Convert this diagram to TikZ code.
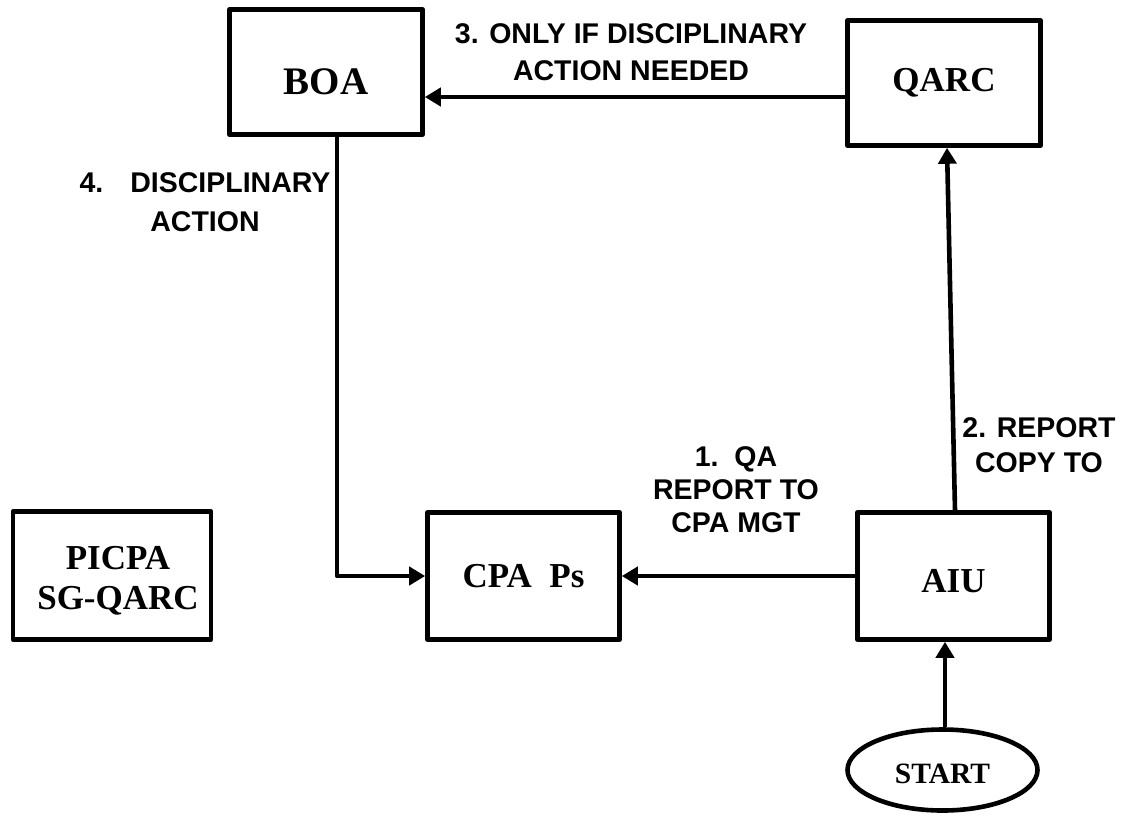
\documentclass[tikz,border=0pt]{standalone}
\usepackage{fontspec}
\setmainfont{Liberation Serif}
\newfontfamily\labfont{Liberation Sans}
\usetikzlibrary{shapes.geometric,arrows.meta}
\begin{document}
\begin{tikzpicture}[x=1pt,y=-1pt,
  box/.style={draw=black,line width=4.6pt,line join=round,inner sep=0pt,rectangle},
  oval/.style={draw=black,line width=4.6pt,inner sep=0pt,ellipse},
  boxtext/.style={font=\bfseries\fontsize{35}{40}\selectfont},
  flow/.style={line width=4.6pt,line join=round,-{Triangle[width=18pt,length=16pt]}},
  lbl/.style={font=\labfont\bfseries\fontsize{28.5}{#1}\selectfont,align=center,inner sep=0pt},
]
\fill[white] (0,0) rectangle (1122,815);
\useasboundingbox (0,0) rectangle (1122,815);

\node[box,minimum width=193,minimum height=125,
  label={[font=\bfseries\fontsize{39}{44}\selectfont,yshift=-10pt]center:BOA}] (boa) at (326,72) {};
\node[box,minimum width=193,minimum height=125,
  label={[boxtext]center:QARC}] (qarc) at (944,83) {};
\node[box,minimum width=198,minimum height=128,
  label={[boxtext,align=center,xshift=6pt,yshift=-5pt]center:PICPA\\SG-QARC}] (picpa) at (112,575.5) {};
\node[box,minimum width=192,minimum height=127,
  label={[boxtext]center:CPA\ \ Ps}] (cpa) at (523.5,576) {};
\node[box,minimum width=192,minimum height=127,
  label={[boxtext,yshift=-5pt]center:AIU}] (aiu) at (953.5,576) {};
\node[oval,minimum width=190,minimum height=81,
  label={[font=\bfseries\fontsize{29.5}{34}\selectfont,yshift=-4pt]center:START}] (start) at (942.5,770) {};

\draw[flow] ([xshift=2.5pt]start.north) -- ([xshift=2.5pt]start.north |- aiu.south);
\draw[flow] (aiu.west) -- (cpa.east);
\draw[flow] ([xshift=1.5pt]aiu.north) -- ([xshift=3pt]qarc.south);
\draw[flow] ([yshift=-14pt]qarc.west) -- ([yshift=-25pt]boa.east);
\draw[flow] ([xshift=11pt]boa.south) |- (cpa.west);

\node[lbl=37] (l3) at (631,52) {3. ONLY IF DISCIPLINARY\\ACTION NEEDED};
\node[lbl=39] (l4) at (205,202.5) {4.\hspace{0.95em}DISCIPLINARY\\ACTION};
\node[lbl=33] (l1) at (736,490) {1.\ \ QA\\REPORT TO\\CPA MGT};
\node[lbl=35] (l2) at (1039,445) {2. REPORT\\COPY TO};
\end{tikzpicture}
\end{document}
